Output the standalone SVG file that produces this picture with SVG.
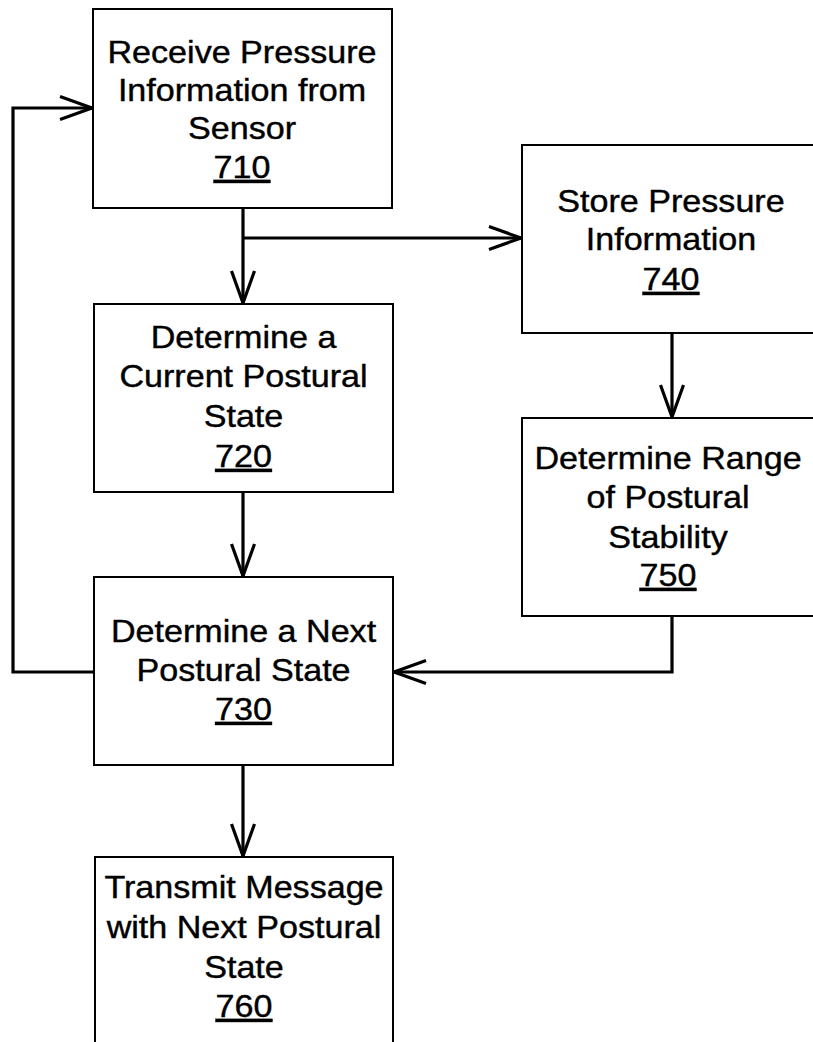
<svg xmlns="http://www.w3.org/2000/svg" width="813" height="1042" viewBox="0 0 813 1042">
<defs>
<style>
.box{fill:#fff;stroke:#000;stroke-width:2}
.lbl{font-family:"Liberation Sans",Arial,sans-serif;font-size:31px;fill:#000;stroke:#000;stroke-width:0.4;text-anchor:middle}
.num{text-decoration:underline}
.conn{fill:none;stroke:#000;stroke-width:3.2}
</style>
<marker id="arr" markerUnits="userSpaceOnUse" viewBox="-36 -15 38 30" markerWidth="38" markerHeight="30" refX="0" refY="0" orient="auto">
<path d="M-32,-11.5 L0,0 L-32,11.5" fill="none" stroke="#000" stroke-width="3.2" stroke-linejoin="round"/>
</marker>
</defs>
<rect width="813" height="1042" fill="#fff"/>
<g id="connectors">
<path class="conn" d="M243,208 V303" marker-end="url(#arr)"/>
<path class="conn" d="M243,238 H521" marker-end="url(#arr)"/>
<path class="conn" d="M243,492 V576" marker-end="url(#arr)"/>
<path class="conn" d="M672,333 V417" marker-end="url(#arr)"/>
<path class="conn" d="M672,616 V672 H394" marker-end="url(#arr)"/>
<path class="conn" d="M93,672 H13 V108 H92" marker-end="url(#arr)"/>
<path class="conn" d="M243,765 V856" marker-end="url(#arr)"/>
</g>
<g id="n710">
<rect class="box" x="93" y="9" width="299" height="199"/>
<g transform="translate(242,0) scale(1.1,1)">
<text class="lbl" x="0" y="63">Receive Pressure</text>
<text class="lbl" x="0" y="101">Information from</text>
<text class="lbl" x="0" y="139">Sensor</text>
<text class="lbl num" x="0" y="178">710</text>
</g>
</g>
<g id="n720">
<rect class="box" x="94" y="304" width="299" height="188"/>
<g transform="translate(243.5,0) scale(1.1,1)">
<text class="lbl" x="0" y="348">Determine a</text>
<text class="lbl" x="0" y="387">Current Postural</text>
<text class="lbl" x="0" y="427">State</text>
<text class="lbl num" x="0" y="467">720</text>
</g>
</g>
<g id="n730">
<rect class="box" x="94" y="577" width="299" height="188"/>
<g transform="translate(243.5,0) scale(1.1,1)">
<text class="lbl" x="0" y="642">Determine a Next</text>
<text class="lbl" x="0" y="681">Postural State</text>
<text class="lbl num" x="0" y="720">730</text>
</g>
</g>
<g id="n740">
<rect class="box" x="522" y="145" width="300" height="188"/>
<g transform="translate(671,0) scale(1.1,1)">
<text class="lbl" x="0" y="212">Store Pressure</text>
<text class="lbl" x="0" y="250">Information</text>
<text class="lbl num" x="0" y="290">740</text>
</g>
</g>
<g id="n750">
<rect class="box" x="522" y="418" width="300" height="198"/>
<g transform="translate(668,0) scale(1.1,1)">
<text class="lbl" x="0" y="469">Determine Range</text>
<text class="lbl" x="0" y="508">of Postural</text>
<text class="lbl" x="0" y="548">Stability</text>
<text class="lbl num" x="0" y="586">750</text>
</g>
</g>
<g id="n760">
<rect class="box" x="95" y="857" width="298" height="200"/>
<g transform="translate(244,0) scale(1.1,1)">
<text class="lbl" x="0" y="898">Transmit Message</text>
<text class="lbl" x="0" y="938">with Next Postural</text>
<text class="lbl" x="0" y="978">State</text>
<text class="lbl num" x="0" y="1017">760</text>
</g>
</g>
</svg>
